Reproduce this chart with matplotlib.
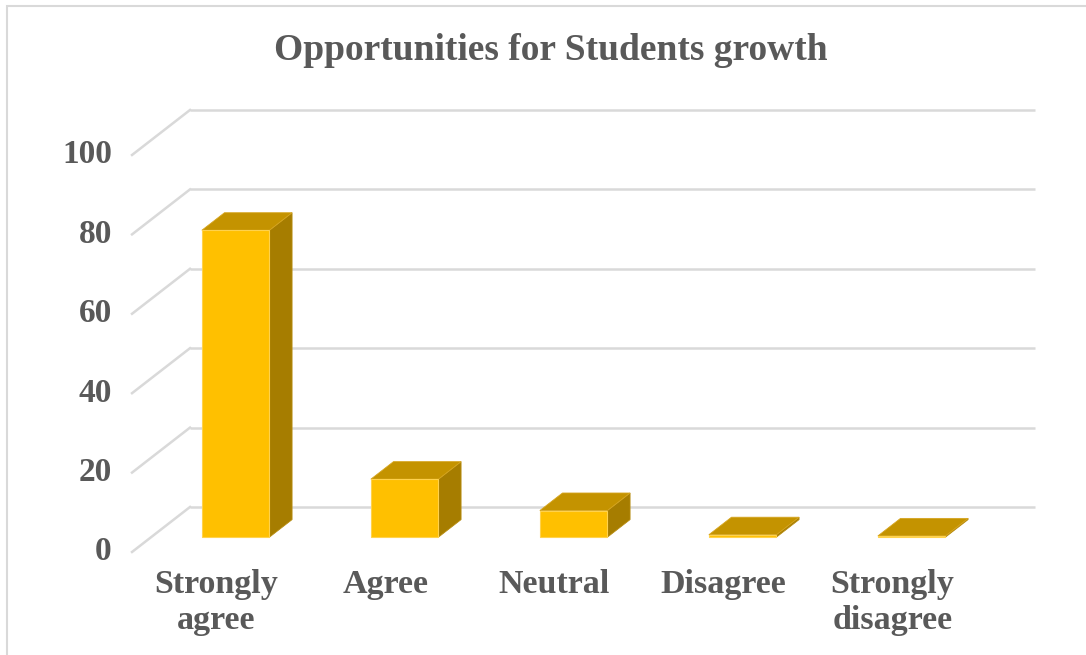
import matplotlib
matplotlib.use("Agg")
import matplotlib.pyplot as plt
from matplotlib.patches import Polygon, Rectangle

# datos
categorias = ["Strongly\nagree", "Agree", "Neutral", "Disagree", "Strongly\ndisagree"]
valores = [77.3, 14.6, 6.7, 0.6, 0.3]
ticks_y = [0, 20, 40, 60, 80, 100]
titulo = "Opportunities for Students growth"

# colores estilo Excel
c_frente = "#FFC000"
c_tapa = "#C49300"
c_lado = "#A67D00"
c_grid = "#D9D9D9"
c_texto = "#595959"
fuente = "Liberation Serif"

# proyeccion oblicua: s=0 pared del fondo, s=1 plano frontal
DX, DY = 0.343, 11.33
s_frente, s_fondo = 0.67, 0.28
ancho = 0.40


def proy(x, v, s):
    return (x - s * DX, v - s * DY)


fig = plt.figure(figsize=(10.86, 6.55), dpi=100)
W, H = 1086, 655

# mapeo datos -> pixeles
x0_px, ux = 190, 169.0
y0_px, uy = 507, 3.97
xlim = (-0.9, 4.55)
ylim = (-14, 102)
px_l = x0_px + (xlim[0] + 0.5) * ux
px_r = x0_px + (xlim[1] + 0.5) * ux
py_b = y0_px - ylim[0] * uy
py_t = y0_px - ylim[1] * uy
ax = fig.add_axes([px_l / W, 1 - py_b / H, (px_r - px_l) / W, (py_b - py_t) / H])
ax.set_xlim(*xlim)
ax.set_ylim(*ylim)
ax.axis("off")

# rejilla: pared del fondo y diagonales del suelo lateral
for t in ticks_y:
    ax.plot([-0.5, 4.5], [t, t], color=c_grid, lw=1.8, zorder=1, solid_capstyle="butt")
    a = proy(-0.5, t, 0)
    b = proy(-0.5, t, 1)
    ax.plot([a[0], b[0]], [a[1], b[1]], color=c_grid, lw=1.8, zorder=1)
    ax.text(b[0] - 0.12, b[1], str(t), ha="right", va="center", fontsize=24,
            fontweight="bold", color=c_texto, family=fuente)

# barras 3D
for i, v in enumerate(valores):
    xl, xr = i - ancho / 2, i + ancho / 2
    lado = [proy(xr, 0, s_frente), proy(xr, 0, s_fondo), proy(xr, v, s_fondo), proy(xr, v, s_frente)]
    tapa = [proy(xl, v, s_frente), proy(xr, v, s_frente), proy(xr, v, s_fondo), proy(xl, v, s_fondo)]
    frente = [proy(xl, 0, s_frente), proy(xr, 0, s_frente), proy(xr, v, s_frente), proy(xl, v, s_frente)]
    ax.add_patch(Polygon(lado, closed=True, fc=c_lado, ec="#B88C10", lw=0.6, zorder=3))
    ax.add_patch(Polygon(tapa, closed=True, fc=c_tapa, ec="#D6A520", lw=0.6, zorder=3))
    ax.add_patch(Polygon(frente, closed=True, fc=c_frente, ec="#FFD24D", lw=0.8, zorder=4))

# etiquetas de categorias en el plano frontal
for i, cat in enumerate(categorias):
    px, py = proy(i, 0, 1)
    ax.text(px, py - 4.3, cat, ha="center", va="top", fontsize=24.5, fontweight="bold",
            color=c_texto, family=fuente, linespacing=1.2)

fig.text(551 / W, 1 - 51 / H, titulo, ha="center", va="center", fontsize=27,
         fontweight="bold", color=c_texto, family=fuente)

# marco del area del grafico
fig.add_artist(Rectangle((7 / W, -0.1), 1.2, 1.1 - 6 / H, transform=fig.transFigure,
                         fill=False, ec=c_grid, lw=1.5))

fig.savefig("out.png", dpi=100)
